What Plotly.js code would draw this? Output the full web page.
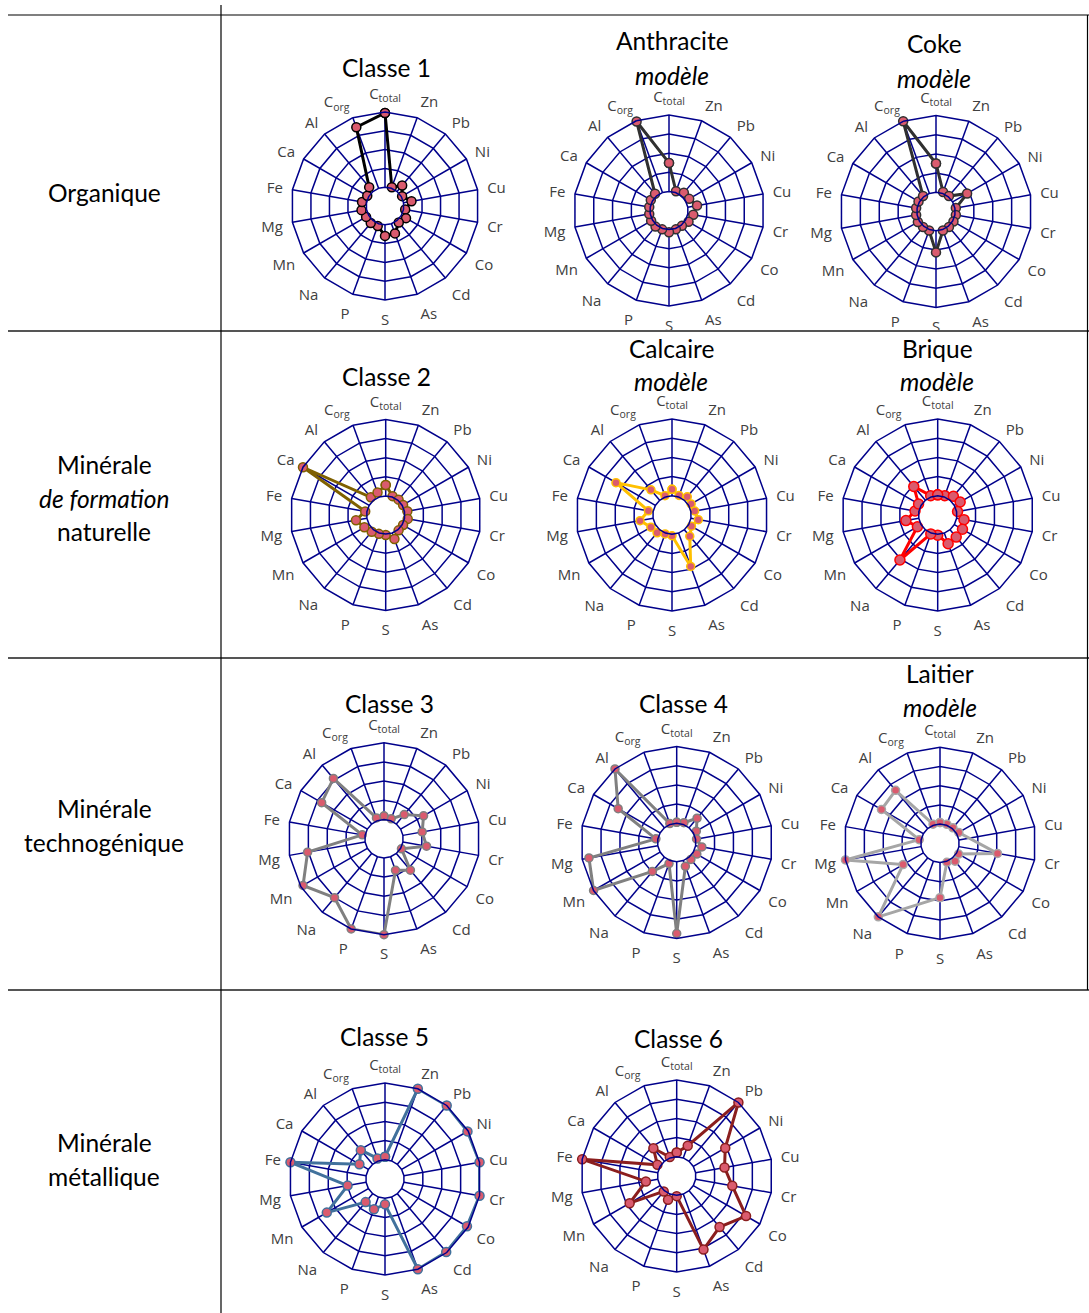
<!DOCTYPE html>
<html>
<head>
<meta charset="utf-8">
<script src="https://cdn.plot.ly/plotly-3.0.1.min.js"></script>
<style>html,body{margin:0;padding:0;background:#fff;}#chart{width:1089px;height:1313px;}</style>
</head>
<body>
<div id="chart"></div>
<script>
// Axes of every radar (clockwise from top)
const categories = ["C<sub>total</sub>","Zn","Pb","Ni","Cu","Cr","Co","Cd","As","S","P","Na","Mn","Mg","Fe","Ca","Al","C<sub>org</sub>"];

// Values (0 = hole edge, 4 = outer ring)
const classe1    = [3.95,0.06,0.42,0.05,0.43,0.09,0.29,0.14,0.55,0.59,0.13,0.18,0.16,0.27,0.24,0.09,0.31,3.46];
const anthracite = [1.49,0.07,0.21,0.22,0.49,0.29,0.18,0.05,0.05,0.14,0.05,0.10,0.08,0.05,0.05,0.10,0.14,3.96];
const coke       = [1.50,0.08,0.05,0.87,0.05,0.05,0.05,0.05,0.05,1.13,0.05,0.05,0.09,0.05,0.05,0.05,0.05,4.00];
const classe2    = [0.57,0.05,0.05,0.05,0.15,0.17,0.05,0.05,0.34,0.05,0.05,0.14,0.29,0.58,0.09,4.00,0.21,0.25];
const calcaire   = [0.34,0.08,0.24,0.15,0.20,0.39,0.17,0.44,1.85,0.08,0.05,0.21,0.27,0.69,0.25,2.37,0.71,0.07];
const brique     = [0.05,0.07,0.27,0.35,0.05,0.39,0.49,0.50,0.59,0.05,0.05,2.06,0.22,0.68,0.20,0.15,0.94,0.07];
const classe3    = [0.18,0.10,0.64,1.38,1.02,1.25,0.05,1.14,0.75,4.00,4.00,3.01,3.87,3.04,0.15,2.75,3.10,0.15];
const classe4    = [0.05,0.10,0.65,0.18,0.05,0.33,0.21,0.15,0.32,3.74,0.17,0.97,4.00,3.64,0.10,2.52,4.00,0.05];
const laitier    = [0.08,0.05,0.05,0.13,null,2.04,0.12,0.22,0.05,1.83,null,4.00,1.22,4.00,0.10,2.52,2.60,0.06];
const classe5    = [0.16,4.00,4.00,3.96,4.00,4.00,3.93,3.96,4.00,0.32,0.68,0.57,2.50,0.98,4.00,0.54,0.96,0.14];
const classe6    = [0.22,0.68,4.00,1.92,1.53,1.94,3.17,2.47,3.08,0.05,0.32,0.05,1.83,0.63,4.00,0.16,0.89,0.05];

const titles = ["Classe 1","Anthracite","Coke","Classe 2","Calcaire","Brique","Classe 3","Classe 4","Laitier","Classe 5","Classe 6"];
const isModel = [false,true,true,false,true,true,false,false,true,false,false];
const rowLabels = [["Organique"],["Minérale","<i>de formation</i>","naturelle"],["Minérale","technogénique"],["Minérale","métallique"]];

const W = 1089, H = 1313;
const series = [classe1, anthracite, coke, classe2, calcaire, brique, classe3, classe4, laitier, classe5, classe6];
const lineColors = ["#000000","#303030","#303030","#7F6000","#FFC000","#FF0000","#808080","#808080","#A6A6A6","#41719C","#8B1E1E"];
const markerSizes = [9,9,9,9,8,10,8,8,8,9,9];
const centers = [[385,206],[669,210.5],[936,211.5],[385.7,515],[672,515],[937.7,515],[384,838.7],[676.7,842.5],[940,843.3],[385,1179],[676.7,1176]];
const radii = [94,95.5,96,95.5,96,96,96,96,96,96,96];
const titlePos = [[386,[68]],[672,[41,75]],[934,[44,78]],[386,[376]],[671,[348,381]],[937,[348,382]],[389,[703]],[683,[703]],[940,[673,707]],[384,[1036]],[678,[1038]]];

const traces = [];
const layout = {
  width: W, height: H,
  margin: {l:0,r:0,t:0,b:0},
  paper_bgcolor: "#ffffff",
  showlegend: false,
  annotations: [],
  shapes: []
};

const navy = "#00008B";
const txtFont = "Lato, sans-serif";
series.forEach((vals, i) => {
  const key = i === 0 ? "polar" : "polar" + (i + 1);
  const [cx, cy] = centers[i];
  const R = radii[i];
  traces.push({
    type: "scatterpolar",
    subplot: key,
    r: vals.concat([vals[0]]),
    theta: categories.concat([categories[0]]),
    mode: "lines+markers",
    connectgaps: true,
    cliponaxis: false,
    line: {color: lineColors[i], width: 3},
    marker: {size: markerSizes[i], color: "#DA5B6E", line: {color: lineColors[i], width: 1.5}},
    hoverinfo: "skip"
  });
  layout[key] = {
    domain: {x: [(cx - R) / W, (cx + R) / W], y: [1 - (cy + R) / H, 1 - (cy - R) / H]},
    hole: 0.2,
    gridshape: "linear",
    bgcolor: "#ffffff",
    radialaxis: {range: [0, 4], tickvals: [1, 2, 3], showticklabels: false, ticks: "", showline: false,
                 gridcolor: navy, gridwidth: 1.5},
    angularaxis: {type: "category", categoryarray: categories, direction: "clockwise", rotation: 90,
                  showline: true, linecolor: navy, linewidth: 1.5, gridcolor: navy, gridwidth: 1.5,
                  ticks: "outside", ticklen: 6, tickcolor: "rgba(0,0,0,0)",
                  tickfont: {family: "Open Sans, sans-serif", size: 15, color: "#404040"}}
  };
  // titles
  const [tx, tys] = titlePos[i];
  layout.annotations.push({xref: "paper", yref: "paper", x: tx / W, y: 1 - tys[0] / H, xanchor: "center", yanchor: "middle",
    showarrow: false, text: titles[i], font: {family: txtFont, size: 24.5, color: "#000"}});
  if (isModel[i]) {
    layout.annotations.push({xref: "paper", yref: "paper", x: tx / W, y: 1 - tys[1] / H, xanchor: "center", yanchor: "middle",
      showarrow: false, text: "<i>modèle</i>", font: {family: txtFont, size: 24.5, color: "#000"}});
  }
});

// row labels
const rowLabelY = [[192],[465,499,532],[808,842],[1142,1176]];
rowLabels.forEach((lines, r) => {
  lines.forEach((t, k) => {
    layout.annotations.push({xref: "paper", yref: "paper", x: 104 / W, y: 1 - rowLabelY[r][k] / H, xanchor: "center", yanchor: "middle",
      showarrow: false, text: t, font: {family: txtFont, size: 24.5, color: "#000"}});
  });
});

// table lines
function hline(y, x0, x1, color, w) {
  layout.shapes.push({type: "line", xref: "paper", yref: "paper", x0: x0 / W, x1: x1 / W, y0: 1 - y / H, y1: 1 - y / H, line: {color: color, width: w}});
}
function vline(x, y0, y1, color, w) {
  layout.shapes.push({type: "line", xref: "paper", yref: "paper", x0: x / W, x1: x / W, y0: 1 - y0 / H, y1: 1 - y1 / H, line: {color: color, width: w}});
}
hline(15, 8, 1089, "#000", 1.2);
hline(331, 8, 1089, "#555", 1.8);
hline(658, 8, 1089, "#555", 1.8);
hline(990, 8, 1089, "#555", 1.8);
vline(221, 5, 1313, "#000", 1.2);
vline(1087.5, 15, 990, "#000", 1.2);

Plotly.newPlot("chart", traces, layout, {staticPlot: true});
</script>
</body>
</html>
